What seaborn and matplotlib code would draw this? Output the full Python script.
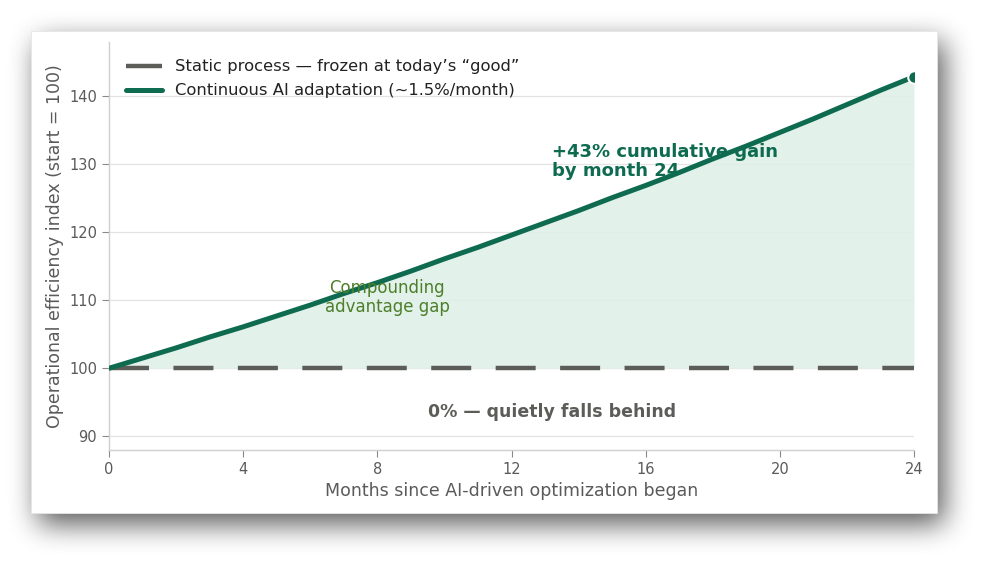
import numpy as np
import pandas as pd
import seaborn as sns
import matplotlib.pyplot as plt
from matplotlib.patches import Rectangle

# dados
months = list(range(0, 25))
ai_index = [100.0, 101.5, 103.0, 104.6, 106.1, 107.7, 109.3, 111.0, 112.6, 114.3,
            116.1, 117.8, 119.6, 121.4, 123.2, 125.1, 126.9, 128.8, 130.8, 132.7,
            134.7, 136.7, 138.8, 140.9, 142.9]
static_index = [100.0] * 25
x_ticks = [0, 4, 8, 12, 16, 20, 24]
y_ticks = [90, 100, 110, 120, 130, 140]

df = pd.DataFrame({'month': months, 'ai': ai_index, 'static': static_index})

GREEN = '#0e6b4f'
FILL = '#dff0e8'
GRAY = '#5c5c58'
OLIVE = '#4d7f2a'

sns.set_theme(style='whitegrid')
plt.rcParams['font.family'] = ['DejaVu Sans']

W, H = 1000, 576
fig = plt.figure(figsize=(10, 5.76), dpi=100)
fig.patch.set_facecolor('white')

# fundo: cartão branco com sombra suave
bg = fig.add_axes([0, 0, 1, 1], zorder=-5)
bg.set_xlim(0, W)
bg.set_ylim(H, 0)
bg.axis('off')
cl, ct, cr, cb = 31, 31, 937, 513
mask = np.zeros((H, W))
mask[ct + 11:cb + 11, cl + 7:cr + 7] = 1.0


def box_blur(a, r):
    k = np.ones(2 * r + 1) / (2 * r + 1)
    a = np.apply_along_axis(lambda m: np.convolve(m, k, mode='same'), 0, a)
    a = np.apply_along_axis(lambda m: np.convolve(m, k, mode='same'), 1, a)
    return a


for _ in range(3):
    mask = box_blur(mask, 13)
shadow = np.zeros((H, W, 4))
shadow[..., 3] = 0.66 * mask
bg.imshow(shadow, extent=(0, W, H, 0), interpolation='bilinear', zorder=0)
bg.add_patch(Rectangle((cl, ct), cr - cl, cb - ct, facecolor='white',
                       edgecolor='#e6e6e6', lw=0.6, zorder=1))

ax = fig.add_axes([0.109, 0.219, 0.805, 0.708])
ax.set_facecolor('none')

ax.fill_between(df['month'], df['static'], df['ai'], color=FILL, alpha=0.9, lw=0, zorder=1)
sns.lineplot(data=df, x='month', y='static', ax=ax, color=GRAY, lw=3.2,
             label='Static process \u2014 frozen at today\u2019s \u201cgood\u201d', zorder=2)
ax.lines[-1].set_dashes([9, 5.5])
sns.lineplot(data=df, x='month', y='ai', ax=ax, color=GREEN, lw=3.6,
             label='Continuous AI adaptation (~1.5%/month)', zorder=3)
ax.plot(months[-1], ai_index[-1], 'o', color=GREEN, ms=9, mec='white', mew=1.5, zorder=4)

ax.set_xlim(0, 24)
ax.set_ylim(88, 148)
ax.set_xticks(x_ticks)
ax.set_yticks(y_ticks)
ax.grid(axis='x', visible=False)
ax.grid(axis='y', color='#e4e4e4', lw=0.9)
for s in ['top', 'right']:
    ax.spines[s].set_visible(False)
for s in ['left', 'bottom']:
    ax.spines[s].set_color('#cfcfcf')
    ax.spines[s].set_linewidth(1.0)
ax.tick_params(axis='both', colors='#5a5a5a', labelsize=10.5, length=5,
               width=0.8, direction='out', left=True, bottom=True)
ax.tick_params(axis='both', color='#8a8a8a')

ax.set_xlabel('Months since AI-driven optimization began', fontsize=12.5, color='#5a5a5a')
ax.set_ylabel('Operational efficiency index (start = 100)', fontsize=12.5, color='#5a5a5a')

ax.text(13.2, 130.4, '+43% cumulative gain\nby month 24', color=GREEN, fontsize=13,
        fontweight='bold', ha='left', va='center', linespacing=1.1, zorder=5)
ax.text(8.3, 110.4, 'Compounding\nadvantage gap', color=OLIVE, fontsize=12,
        ha='center', va='center', linespacing=1.05, zorder=5)
ax.text(13.2, 93.5, '0% \u2014 quietly falls behind', color=GRAY, fontsize=12.5,
        fontweight='bold', ha='center', va='center', zorder=5)

leg = ax.legend(loc='upper left', frameon=False, fontsize=11.8, handlelength=2.2,
                borderaxespad=0.55, labelspacing=0.55, borderpad=0.5)
for t in leg.get_texts():
    t.set_color('#222222')

fig.savefig('out.png', dpi=100, facecolor='white')
